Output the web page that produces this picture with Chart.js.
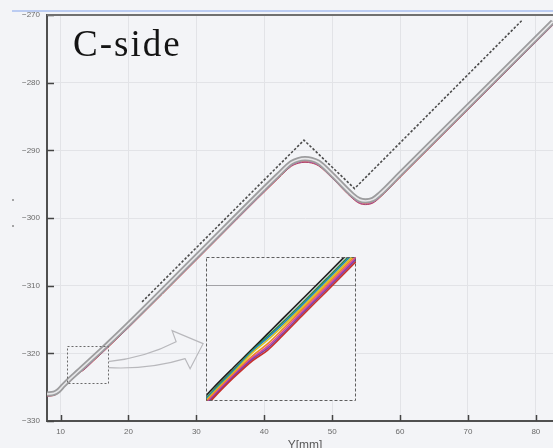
<!DOCTYPE html>
<html>
<head>
<meta charset="utf-8">
<script src="https://cdn.jsdelivr.net/npm/chart.js@4/dist/chart.umd.min.js"></script>
<style>
  html, body { margin: 0; padding: 0; background: #f3f4f7; overflow: hidden; width: 553px; height: 448px; }
  #wrap { position: relative; width: 553px; height: 448px; overflow: hidden; }
  #main { position: absolute; left: 0; top: 0; }
  #detail { position: absolute; left: 206px; top: 257px; }
</style>
</head>
<body>
<div id="wrap">
  <canvas id="main" width="570" height="470"></canvas>
  <canvas id="detail" width="150" height="144"></canvas>
</div>
<script>
// Sampling positions along the path [mm]
const xs = [8, 9, 9.7, 10.4, 11.2, 12.0, 12.8, 13.4, 14.0, 14.8, 15.8, 17.0, 20, 30, 42, 44, 45, 46, 47, 48, 50, 53, 54, 54.9, 56, 57, 60, 82.5];

// Measured tracks, one per run
const yBlack   = [-325.95, -325.85, -325.45, -324.7, -323.9, -323.15, -322.42, -321.86, -321.3, -320.56, -319.63, -318.5, -315.6, -305.6, -293.6, -291.74, -291.3, -291.15, -291.27, -291.68, -293.5, -296.5, -297.22, -297.4, -297.17, -296.4, -293.4, -270.9];
const yGray    = [-326.01, -325.91, -325.51, -324.76, -323.96, -323.21, -322.48, -321.93, -321.38, -320.64, -319.71, -318.58, -315.68, -305.68, -293.68, -291.82, -291.38, -291.23, -291.35, -291.76, -293.58, -296.58, -297.3, -297.48, -297.25, -296.48, -293.48, -270.98];
const yGreen   = [-326.05, -325.95, -325.55, -324.8, -324.0, -323.25, -322.47, -321.96, -321.44, -320.71, -319.78, -318.65, -315.75, -305.75, -293.75, -291.89, -291.45, -291.3, -291.42, -291.83, -293.65, -296.65, -297.37, -297.55, -297.32, -296.55, -293.55, -271.05];
const yBlue    = [-326.09, -325.99, -325.59, -324.84, -324.04, -323.29, -322.5, -322.02, -321.51, -320.78, -319.85, -318.72, -315.82, -305.82, -293.82, -291.96, -291.52, -291.37, -291.49, -291.9, -293.72, -296.72, -297.44, -297.62, -297.39, -296.62, -293.62, -271.12];
const yYellow  = [-326.14, -326.04, -325.64, -324.89, -324.09, -323.34, -322.56, -322.1, -321.59, -320.86, -319.93, -318.8, -315.9, -305.9, -293.9, -292.04, -291.6, -291.45, -291.57, -291.98, -293.8, -296.8, -297.52, -297.7, -297.47, -296.7, -293.7, -271.2];
const yOrange  = [-326.19, -326.09, -325.69, -324.94, -324.14, -323.39, -322.68, -322.24, -321.7, -320.94, -320.01, -318.88, -315.98, -305.98, -293.98, -292.12, -291.68, -291.53, -291.65, -292.06, -293.88, -296.88, -297.6, -297.78, -297.55, -296.78, -293.78, -271.28];
const yMagenta = [-326.24, -326.14, -325.74, -324.99, -324.19, -323.44, -322.75, -322.33, -321.79, -321.02, -320.09, -318.96, -316.06, -306.06, -294.06, -292.2, -291.76, -291.61, -291.73, -292.14, -293.96, -296.96, -297.68, -297.86, -297.63, -296.86, -293.86, -271.36];
const yPurple  = [-326.29, -326.19, -325.79, -325.04, -324.24, -323.49, -322.81, -322.41, -321.87, -321.1, -320.17, -319.04, -316.14, -306.14, -294.14, -292.28, -291.84, -291.69, -291.81, -292.22, -294.04, -297.04, -297.76, -297.94, -297.71, -296.94, -293.94, -271.44];
const yRed     = [-326.34, -326.24, -325.84, -325.09, -324.29, -323.54, -322.87, -322.48, -321.94, -321.18, -320.25, -319.12, -316.22, -306.22, -294.22, -292.36, -291.92, -291.77, -291.89, -292.3, -294.12, -297.12, -297.84, -298.02, -297.79, -297.02, -294.02, -271.52];

// Nominal (design) path, drawn dashed
const refX = [22, 45.85, 53.3, 78.1];
const refY = [-312.4, -288.5, -295.65, -270.65];

// Axes
const xTicks = [10, 20, 30, 40, 50, 60, 70, 80];
const yTicks = [-330, -320, -310, -300, -290, -280, -270];
const xRange = [8, 84];
const yRange = [-330, -270];

// Magnified window
const zoomX = [10.9, 17.0];
const zoomY = [-324.4, -318.95];
const zoomGrid = [-320];

const sideLabel = 'C-side';
const xTitle = 'Y[mm]';

const tracks = [
  { y: yBlack,   color: '#1c1c1c' },
  { y: yGreen,   color: '#2f8a3c' },
  { y: yBlue,    color: '#1f86c6' },
  { y: yYellow,  color: '#d6c21f' },
  { y: yOrange,  color: '#ee8a1e' },
  { y: yMagenta, color: '#d8479a' },
  { y: yPurple,  color: '#7c3fa8' },
  { y: yRed,     color: '#c8302c' }
];

const BG = '#f3f4f7';
const pts = (xv, yv) => xv.map((x, i) => ({ x: x, y: yv[i] }));
const fmt = v => (v < 0 ? '\u2212' + Math.abs(v) : String(v));

function trackSet(t, width, order, clip) {
  return {
    data: pts(xs, t.y), borderColor: t.color, borderWidth: width,
    pointRadius: 0, cubicInterpolationMode: 'monotone', fill: false,
    order: order, clip: clip
  };
}

// Decorations on the main chart: frame, inward ticks, window box, arrow, label
const mainDecor = {
  id: 'mainDecor',
  afterDatasetsDraw(chart) {
    const { ctx, chartArea: a, scales: { x, y } } = chart;
    ctx.save();
    // inward tick marks
    ctx.strokeStyle = '#444';
    ctx.lineWidth = 1.5;
    ctx.beginPath();
    y.ticks.forEach(t => {
      const py = Math.round(y.getPixelForValue(t.value)) + 0.5;
      ctx.moveTo(a.left, py); ctx.lineTo(a.left + 7, py);
    });
    x.ticks.forEach(t => {
      const px = Math.round(x.getPixelForValue(t.value)) + 0.5;
      ctx.moveTo(px, a.bottom); ctx.lineTo(px, a.bottom - 6);
    });
    ctx.stroke();

    // top frame line
    ctx.strokeStyle = '#707070';
    ctx.lineWidth = 2;
    ctx.beginPath();
    ctx.moveTo(a.left, a.top); ctx.lineTo(a.right, a.top);
    ctx.stroke();

    // window box
    const bl = x.getPixelForValue(zoomX[0]), br = x.getPixelForValue(zoomX[1]);
    const bt = y.getPixelForValue(zoomY[1]), bb = y.getPixelForValue(zoomY[0]);
    ctx.strokeStyle = '#6a6a6a';
    ctx.lineWidth = 1;
    ctx.setLineDash([2, 2]);
    ctx.strokeRect(Math.round(bl) + 0.5, Math.round(bt) + 0.5, Math.round(br - bl), Math.round(bb - bt));
    ctx.setLineDash([]);

    // hollow arrow from the box toward the detail view
    const m = (bt + bb) / 2;
    ctx.strokeStyle = '#b8b8bc';
    ctx.lineWidth = 1.2;
    ctx.beginPath();
    ctx.moveTo(br, m - 3);
    ctx.quadraticCurveTo(br + 37, m - 7, br + 68, m - 23);
    ctx.lineTo(br + 64, m - 34);
    ctx.lineTo(br + 95, m - 21);
    ctx.lineTo(br + 82, m + 4);
    ctx.lineTo(br + 77, m - 6);
    ctx.quadraticCurveTo(br + 42, m + 5, br, m + 3);
    ctx.stroke();

    // side label
    ctx.fillStyle = '#141414';
    ctx.font = '37px "Liberation Serif", "Times New Roman", serif';
    ctx.textBaseline = 'alphabetic';
    if ('letterSpacing' in ctx) ctx.letterSpacing = '2px';
    ctx.fillText(sideLabel, a.left + 26, a.top + 41);
    if ('letterSpacing' in ctx) ctx.letterSpacing = '0px';

    // thin blue rule above the frame
    ctx.strokeStyle = '#a9bff0';
    ctx.lineWidth = 1.5;
    ctx.beginPath();
    ctx.moveTo(a.left - 35, a.top - 4); ctx.lineTo(chart.width, a.top - 4);
    ctx.stroke();

    // remnant marks of the vertical axis title
    ctx.fillStyle = '#8a8a8a';
    [185, 211].forEach(dy => {
      ctx.beginPath();
      ctx.arc(a.left - 34, a.top + dy, 1, 0, Math.PI * 2);
      ctx.fill();
    });
    ctx.restore();
  }
};

const mainDatasets = [
  { data: pts(xs, yGray), borderColor: '#e8e8ea', borderWidth: 1.6, pointRadius: 0, cubicInterpolationMode: 'monotone', order: 0 },
  { data: pts(xs, yGray), borderColor: '#9d9d9f', borderWidth: 5.2, pointRadius: 0, cubicInterpolationMode: 'monotone', order: 1 },
  { data: pts(refX, refY), borderColor: '#4c4c4c', borderWidth: 1.6, borderDash: [2.5, 1.8], pointRadius: 0, tension: 0, order: 2 }
].concat(tracks.map((t, i) => trackSet(t, 0.9, 3 + i, 2)));

new Chart(document.getElementById('main'), {
  type: 'line',
  data: { datasets: mainDatasets },
  options: {
    responsive: false,
    animation: false,
    events: [],
    layout: { padding: { left: 0, right: 7, top: 15, bottom: 0 } },
    plugins: { legend: { display: false }, tooltip: { enabled: false } },
    scales: {
      x: {
        type: 'linear', min: xRange[0], max: xRange[1],
        afterFit: s => { s.height = 49; },
        afterBuildTicks: s => { s.ticks = xTicks.map(v => ({ value: v })); },
        grid: { color: '#e2e3e7', lineWidth: 1, drawTicks: false },
        border: { display: true, color: '#505050', width: 2 },
        ticks: { padding: 6, color: '#6a6a6a', font: { family: '"Liberation Sans", Arial, sans-serif', size: 8 }, callback: v => fmt(v), maxRotation: 0 },
        title: { display: true, text: xTitle, color: '#5a5a5a', font: { family: '"Liberation Sans", Arial, sans-serif', size: 12 }, padding: { top: 0, bottom: 17 } }
      },
      y: {
        type: 'linear', min: yRange[0], max: yRange[1],
        afterFit: s => { s.width = 47; },
        afterBuildTicks: s => { s.ticks = yTicks.map(v => ({ value: v })); },
        grid: { color: '#e2e3e7', lineWidth: 1, drawTicks: false },
        border: { display: true, color: '#505050', width: 2 },
        ticks: { padding: 7, color: '#6a6a6a', font: { family: '"Liberation Sans", Arial, sans-serif', size: 8 }, callback: v => fmt(v) }
      }
    }
  },
  plugins: [mainDecor]
});

// Detail view of the window
const detailDecor = {
  id: 'detailDecor',
  beforeDraw(chart) {
    const { ctx } = chart;
    ctx.save();
    ctx.fillStyle = BG;
    ctx.fillRect(0, 0, chart.width, chart.height);
    ctx.restore();
  },
  beforeDatasetsDraw(chart) {
    const { ctx, chartArea: a, scales: { y } } = chart;
    ctx.save();
    ctx.strokeStyle = '#a2a2a6';
    ctx.lineWidth = 1;
    ctx.beginPath();
    zoomGrid.forEach(v => {
      const py = Math.round(y.getPixelForValue(v)) + 0.5;
      ctx.moveTo(a.left, py); ctx.lineTo(a.right, py);
    });
    ctx.stroke();
    ctx.restore();
  },
  afterDraw(chart) {
    const { ctx } = chart;
    ctx.save();
    ctx.strokeStyle = '#5e5e5e';
    ctx.lineWidth = 1;
    ctx.setLineDash([3, 2]);
    ctx.strokeRect(0.5, 0.5, chart.width - 1, chart.height - 1);
    ctx.restore();
  }
};

const detailDatasets = [
  { data: pts(xs, yGray), borderColor: '#c4c4c7', borderWidth: 1.2, pointRadius: 0, cubicInterpolationMode: 'monotone', order: 20, clip: 0 }
].concat(tracks.map((t, i) => trackSet(t, 1.6, tracks.length - i, 0)));

new Chart(document.getElementById('detail'), {
  type: 'line',
  data: { datasets: detailDatasets },
  options: {
    responsive: false,
    animation: false,
    events: [],
    layout: { padding: 0 },
    plugins: { legend: { display: false }, tooltip: { enabled: false } },
    scales: {
      x: { type: 'linear', display: false, min: zoomX[0], max: zoomX[1] },
      y: { type: 'linear', display: false, min: zoomY[0], max: zoomY[1] }
    }
  },
  plugins: [detailDecor]
});
</script>
</body>
</html>
